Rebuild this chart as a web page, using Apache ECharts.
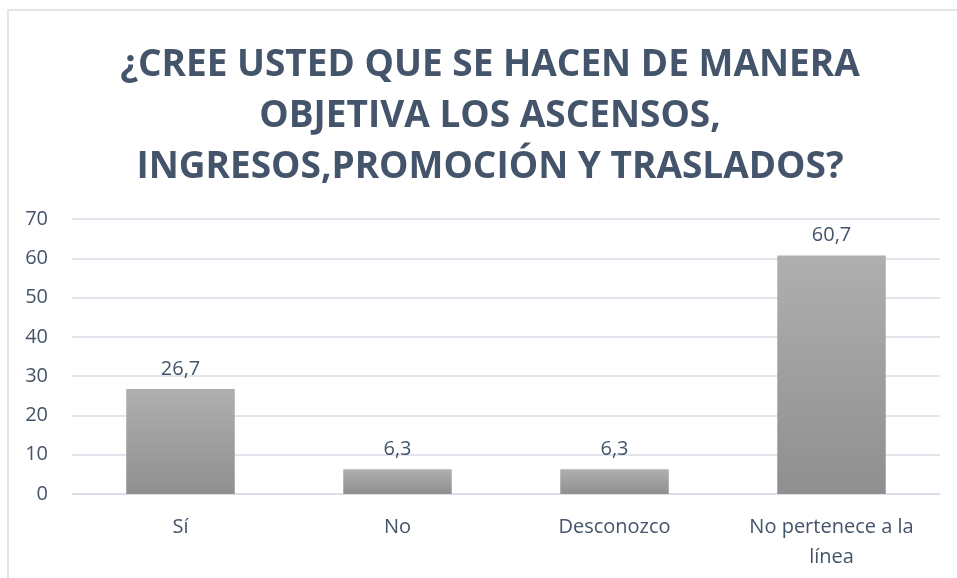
<!DOCTYPE html>
<html><head><meta charset="utf-8">
<script src="https://cdn.jsdelivr.net/npm/echarts@6/dist/echarts.min.js"></script>
<style>html,body{margin:0;padding:0;background:#fff}#c{width:957px;height:578px}</style>
</head><body><div id="c"></div>
<script>
const titleText = "¿CREE USTED QUE SE HACEN DE MANERA\nOBJETIVA LOS ASCENSOS,\nINGRESOS,PROMOCIÓN Y TRASLADOS?";
const categories = ["Sí", "No", "Desconozco", "No pertenece a la\nlínea"];
const values = [26.7, 6.3, 6.3, 60.7];
const yTicks = [0, 10, 20, 30, 40, 50, 60, 70];

const FONT = '"Open Sans"';
const chart = echarts.init(document.getElementById('c'), null, {renderer: 'canvas'});
chart.setOption({
  backgroundColor: '#fff',
  animation: false,
  graphic: [{
    type: 'rect', shape: {x: 8, y: 10, width: 1000, height: 700},
    style: {fill: 'none', stroke: '#D9DDE3', lineWidth: 1.5}, silent: true, z: -1
  }],
  title: {
    text: titleText, left: 485, textAlign: 'center', top: 35,
    textStyle: {fontFamily: FONT, fontWeight: 'bold', fontSize: 37, lineHeight: 51, color: '#44546A'}
  },
  grid: {left: 72, right: 17, top: 219, bottom: 84},
  xAxis: {
    type: 'category', data: categories,
    axisLine: {show: true, lineStyle: {color: '#D9DEE6', width: 1.5}},
    axisTick: {show: false},
    axisLabel: {color: '#44546A', fontFamily: FONT, fontSize: 20, margin: 18, lineHeight: 30}
  },
  yAxis: {
    type: 'value', min: yTicks[0], max: yTicks[yTicks.length - 1], interval: 10,
    axisLine: {show: false}, axisTick: {show: false},
    splitLine: {lineStyle: {color: '#D9DEE6', width: 1.5}},
    axisLabel: {color: '#44546A', fontFamily: FONT, fontSize: 20, margin: 24}
  },
  series: [{
    type: 'bar', data: values, barWidth: '50%',
    itemStyle: {color: new echarts.graphic.LinearGradient(0, 0, 0, 1, [
      {offset: 0, color: '#AFAFAF'}, {offset: 1, color: '#8F8F8F'}])},
    label: {show: true, position: 'top', distance: 10, color: '#44546A', fontFamily: FONT, fontSize: 20,
      formatter: p => String(p.value).replace('.', ',')}
  }]
});
</script></body></html>
